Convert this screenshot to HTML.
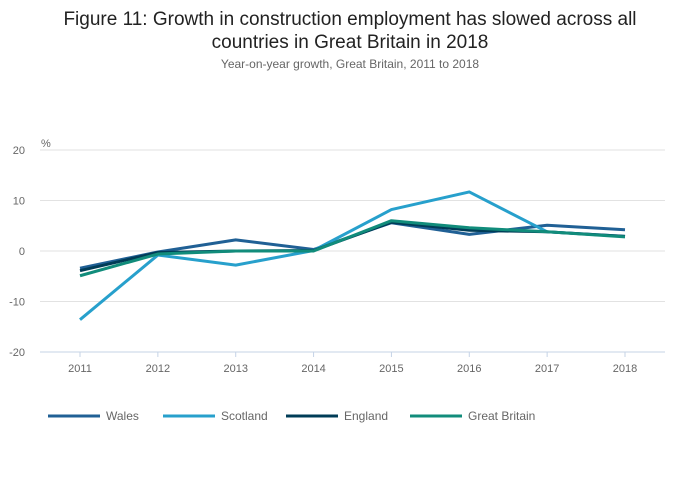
<!DOCTYPE html>
<html><head><meta charset="utf-8"><style>
body{margin:0;background:#fff;font-family:"Liberation Sans",sans-serif;}
#wrap{position:relative;width:700px;height:502px;}
#t{position:absolute;top:8px;left:0;width:700px;text-align:center;font-size:19px;color:#222;line-height:23px;}
#st{position:absolute;top:57px;left:0;width:700px;text-align:center;font-size:12px;color:#666;}
svg{position:absolute;left:0;top:0;}
</style></head><body>
<div id="wrap">
<div id="t">Figure 11: Growth in construction employment has slowed across all<br>countries in Great Britain in 2018</div>
<div id="st">Year-on-year growth, Great Britain, 2011 to 2018</div>
<svg id="svg" width="700" height="502"></svg>
</div>
<script>
const years=["2011","2012","2013","2014","2015","2016","2017","2018"];
const yTicks=[20,10,0,-10,-20];
const wales=[-3.4,-0.2,2.2,0.3,5.6,3.3,5.1,4.2];
const scotland=[-13.6,-0.8,-2.8,0.1,8.2,11.7,3.8,2.9];
const england=[-3.9,-0.3,0.0,0.1,5.7,4.1,3.8,2.9];
const gb=[-4.9,-0.6,0.0,0.0,6.0,4.6,3.8,2.8];
const names=["Wales","Scotland","England","Great Britain"];
const colors=["#206095","#27a0cc","#003c57","#118c7b"];
const series=[wales,scotland,england,gb];
const ns="http://www.w3.org/2000/svg",svg=document.getElementById('svg');
const x=i=>80+i*(545/7), y=v=>251-v*5.05;
function mk(t,a,p){const e=document.createElementNS(ns,t);for(const k in a)e.setAttribute(k,a[k]);(p||svg).appendChild(e);return e;}
yTicks.forEach(v=>{
 const l=mk('line',{x1:40,x2:665,y1:y(v),y2:y(v),stroke:v===-20?'#c5d3e6':'#e2e2e2','stroke-width':1});
 
 
 const t=mk('text',{x:25,y:y(v)+4,'text-anchor':'end','font-size':11,fill:'#666'});t.textContent=v;
 
 
});
const u=mk('text',{x:41,y:147,'font-size':11,fill:'#666'});u.textContent='%';


years.forEach((yr,i)=>{
 const tk=mk('line',{x1:x(i),x2:x(i),y1:352,y2:357,stroke:'#c5d3e6'});
 
 
 const t=mk('text',{x:x(i),y:372,'text-anchor':'middle','font-size':11,fill:'#666'});t.textContent=yr;
 
 
});
series.forEach((s,k)=>{
 const p=mk('polyline',{points:s.map((v,i)=>x(i)+','+y(v)).join(' '),fill:'none',stroke:colors[k],'stroke-width':3,'stroke-linejoin':'round'});
 
 
});
const lx=[48,163,286,410];
names.forEach((n,k)=>{
 const g=mk('g',{});
 
 
 mk('line',{x1:lx[k],x2:lx[k]+52,y1:416,y2:416,stroke:colors[k],'stroke-width':3},g);
 const t=mk('text',{x:lx[k]+58,y:420,'font-size':12,fill:'#666'},g);t.textContent=n;
});
</script>
</body></html>
